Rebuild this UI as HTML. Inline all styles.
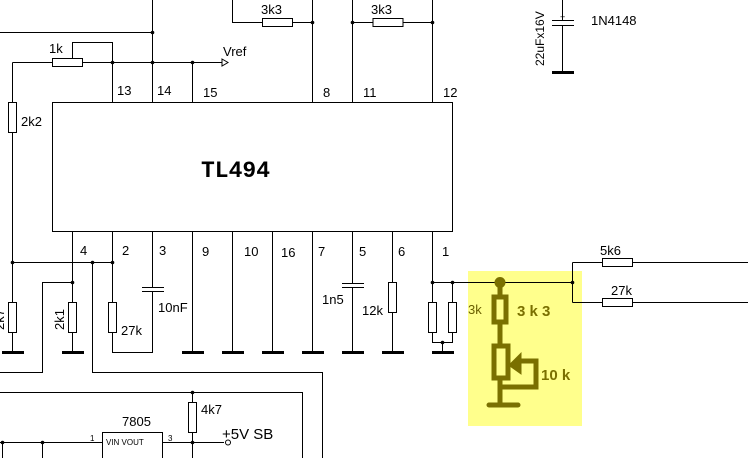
<!DOCTYPE html>
<html><head><style>html,body{margin:0;padding:0;background:#fff}svg{display:block}</style></head><body>
<svg width="748" height="458" viewBox="0 0 748 458" xmlns="http://www.w3.org/2000/svg" font-family="Liberation Sans, sans-serif" font-size="13">
<rect x="468" y="271" width="114" height="155" fill="#ffff8c"/>
<g stroke="#000" stroke-width="1" fill="none">
<rect x="52.5" y="102.5" width="400" height="129" fill="#fff"/>
<path d="M0 32.5H152.5M152.5 0V102.5M12.5 62.5H222M12.5 62.5V352M72.5 58V42.5H112.5V62.5M112.5 62.5V102.5M192.5 62.5V102.5"/>
<rect x="52.5" y="58.5" width="30" height="8" fill="#fff"/>
<rect x="8.5" y="102.5" width="8" height="30" fill="#fff"/>
<path d="M222 59L228 62.5L222 66Z"/>
<path d="M232.5 0V22.5H262.5M292.5 22.5H312.5M312.5 0V102.5M352.5 0V102.5M352.5 22.5H373M403 22.5H432.5M432.5 0V102.5"/>
<rect x="262.5" y="18.5" width="30" height="8" fill="#fff"/>
<rect x="373" y="18.5" width="30" height="8" fill="#fff"/>
<path d="M562.5 0V20M562.5 26V72M552 20.5H574M552 25.5H574"/>
<path d="M12.5 262.5H112.5M72.5 231V352M72.5 282.5H42.5V372.5H0M92.5 262.5V372.5H322.5V458"/>
<path d="M112.5 231V352.5H152.5V292M152.5 231V287M142 287.5H164M142 291.5H164"/>
<path d="M192.5 231V352M232.5 231V352M272.5 231V352M312.5 231V352M352.5 231V283M352.5 287V352M342 283.5H364M342 287.5H364M392.5 231V352"/>
<path d="M432.5 231V342.5H452.5V282.5M432.5 282.5H572.5M442.5 342.5V352M572.5 262.5V302.5M572.5 262.5H748M572.5 302.5H748"/>
<rect x="8.5" y="302.5" width="8" height="30" fill="#fff"/>
<rect x="68.5" y="302.5" width="8" height="30" fill="#fff"/>
<rect x="108.5" y="302.5" width="8" height="30" fill="#fff"/>
<rect x="388.5" y="282.5" width="8" height="30" fill="#fff"/>
<rect x="428.5" y="302.5" width="8" height="30" fill="#fff"/>
<rect x="448.5" y="302.5" width="8" height="30" fill="#fff"/>
<rect x="602.5" y="258.5" width="30" height="8" fill="#fff"/>
<rect x="602.5" y="298.5" width="30" height="8" fill="#fff"/>
<path d="M0 392.5H302.5V458M192.5 392.5V458M0 442.5H102.5M162.5 442.5H224M2.5 442.5V458M42.5 442.5V458"/>
<rect x="188.5" y="402.5" width="8" height="30" fill="#fff"/>
<rect x="102.5" y="432.5" width="60" height="30" fill="#fff"/>
<circle cx="228" cy="442.5" r="2.5" fill="#fff"/>
</g>
<g fill="#000">
<circle cx="152.5" cy="32.5" r="1.8"/><circle cx="112.5" cy="62.5" r="1.8"/><circle cx="152.5" cy="62.5" r="1.8"/><circle cx="192.5" cy="62.5" r="1.8"/>
<circle cx="312.5" cy="22.5" r="1.8"/><circle cx="352.5" cy="22.5" r="1.8"/><circle cx="432.5" cy="22.5" r="1.8"/>
<circle cx="12.5" cy="262.5" r="1.8"/><circle cx="92.5" cy="262.5" r="1.8"/><circle cx="112.5" cy="262.5" r="1.8"/><circle cx="72.5" cy="282.5" r="1.8"/>
<circle cx="432.5" cy="282.5" r="1.8"/><circle cx="452.5" cy="282.5" r="1.8"/><circle cx="442.5" cy="342.5" r="1.8"/><circle cx="572.5" cy="282.5" r="1.8"/>
<circle cx="192.5" cy="392.5" r="1.8"/><circle cx="192.5" cy="442.5" r="1.8"/><circle cx="2.5" cy="442.5" r="1.8"/><circle cx="42.5" cy="442.5" r="1.8"/>
<rect x="552" y="71" width="22" height="3"/>
<rect x="2" y="351" width="22" height="3"/><rect x="62" y="351" width="22" height="3"/><rect x="182" y="351" width="22" height="3"/><rect x="222" y="351" width="22" height="3"/><rect x="262" y="351" width="22" height="3"/><rect x="302" y="351" width="22" height="3"/><rect x="342" y="351" width="22" height="3"/><rect x="382" y="351" width="22" height="3"/><rect x="432" y="351" width="22" height="3"/>
</g>
<g stroke="#7a7000" stroke-width="5" fill="none" stroke-linecap="round">
<circle cx="500" cy="282.5" r="3" fill="#7a7000"/>
<path d="M500 282V297M500 322V345M500 378V405M489 405H518"/>
<rect x="494" y="297" width="12" height="25"/>
<rect x="494" y="346" width="14" height="32"/>
<path d="M502 387H536V361H518"/>
<path d="M512 365L519 358L519 370Z" fill="#7a7000"/>
</g>
<g fill="#7a7000" font-weight="bold" font-size="15">
<text x="517" y="316">3 k 3</text><text x="541" y="380">10 k</text>
</g>
<g fill="#000">
<text x="49" y="53">1k</text><text x="223" y="56">Vref</text><text x="261" y="14">3k3</text><text x="371" y="14">3k3</text>
<text x="591" y="25" font-size="13">1N4148</text>
<text transform="translate(544 66) rotate(-90)" font-size="12">22uFx16V</text>
<text x="560" y="20" font-size="9">+</text>
<text x="21" y="126">2k2</text>
<text x="117" y="95">13</text><text x="157" y="95">14</text><text x="203" y="97">15</text><text x="323" y="97">8</text><text x="363" y="97">11</text><text x="443" y="97">12</text>
<text x="201" y="177" font-family="'Liberation Mono', 'DejaVu Sans Mono', monospace" font-weight="bold" font-size="23" style="font-family:'Liberation Mono',monospace">TL494</text>
<text x="80" y="255">4</text><text x="122" y="255">2</text><text x="159" y="255">3</text><text x="202" y="256">9</text><text x="244" y="256">10</text><text x="281" y="257">16</text><text x="318" y="256">7</text><text x="359" y="256">5</text><text x="398" y="256">6</text><text x="442" y="256">1</text>
<text x="158" y="312">10nF</text><text x="121" y="335">27k</text><text x="322" y="304">1n5</text><text x="362" y="315">12k</text><text x="468" y="314" fill="#6a6000">3k</text>
<text transform="translate(64 330) rotate(-90)">2k1</text>
<text transform="translate(4 330) rotate(-90)">2k7</text>
<text x="600" y="255">5k6</text><text x="611" y="295">27k</text>
<text x="201" y="414">4k7</text><text x="122" y="426">7805</text><text x="222" y="439" font-size="15">+5V SB</text>
<text x="90" y="441" font-size="8">1</text><text x="168" y="441" font-size="8">3</text>
<text x="106" y="445" font-size="8">VIN  VOUT</text>
</g>
</svg>
</body></html>
